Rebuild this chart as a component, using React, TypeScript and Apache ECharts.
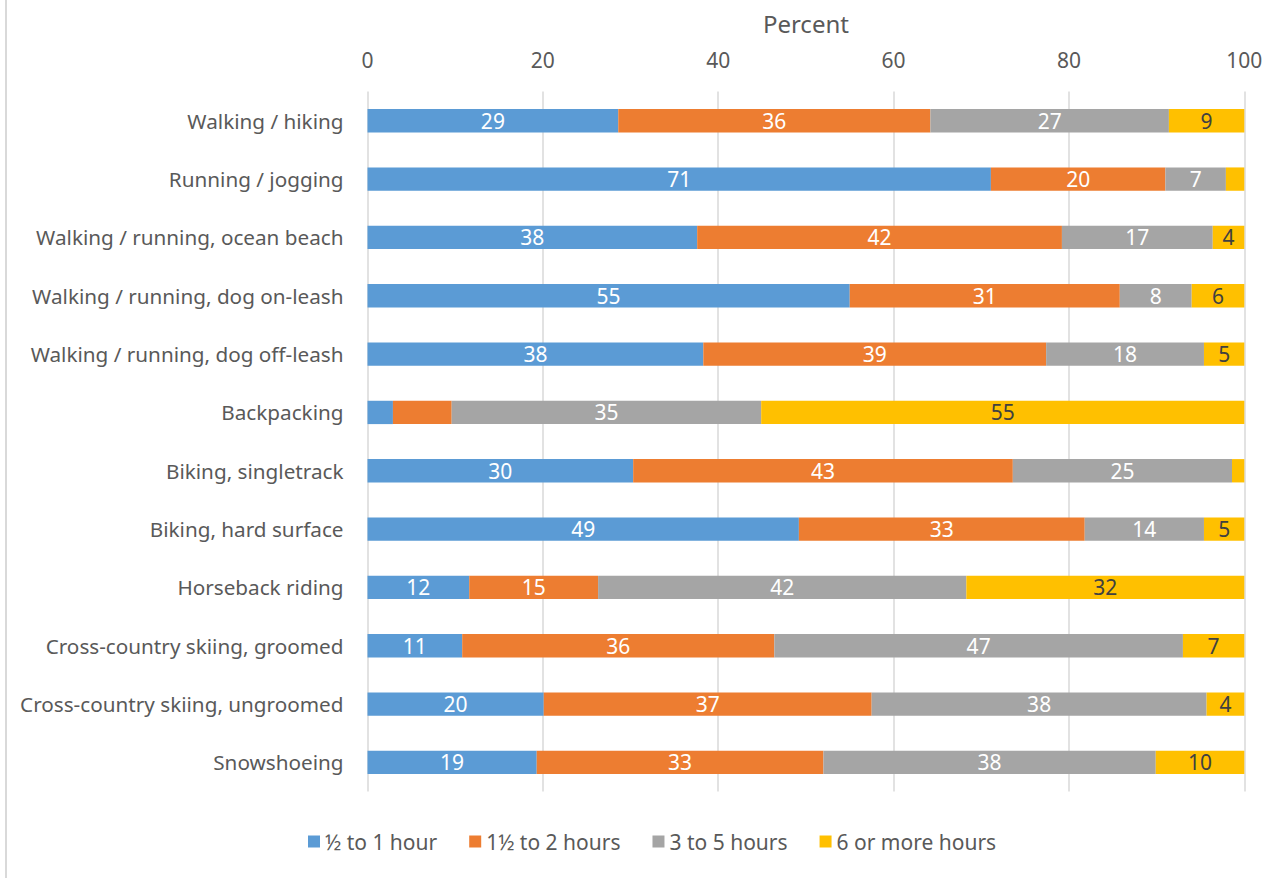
import React, { useEffect, useRef } from "react";
import * as echarts from "echarts";

// Activities, listed top to bottom
const categories = [
  "Walking / hiking",
  "Running / jogging",
  "Walking / running, ocean beach",
  "Walking / running, dog on-leash",
  "Walking / running, dog off-leash",
  "Backpacking",
  "Biking, singletrack",
  "Biking, hard surface",
  "Horseback riding",
  "Cross-country skiing, groomed",
  "Cross-country skiing, ungroomed",
  "Snowshoeing",
];

// Share of respondents (percent) by trip length
const halfToOneHour = [28.6, 71.1, 37.6, 55.0, 38.3, 2.9, 30.3, 49.2, 11.6, 10.8, 20.1, 19.3];
const oneHalfToTwoHours = [35.6, 19.9, 41.6, 30.8, 39.1, 6.7, 43.3, 32.6, 14.7, 35.6, 37.4, 32.7];
const threeToFiveHours = [27.2, 6.9, 17.2, 8.2, 18.0, 35.3, 25.0, 13.6, 42.0, 46.6, 38.2, 37.9];
const sixOrMoreHours = [8.6, 2.1, 3.6, 6.0, 4.6, 55.1, 1.4, 4.6, 31.7, 7.0, 4.3, 10.1];

const seriesNames = ["½ to 1 hour", "1½ to 2 hours", "3 to 5 hours", "6 or more hours"];
const seriesValues = [halfToOneHour, oneHalfToTwoHours, threeToFiveHours, sixOrMoreHours];
const seriesColors = ["#5B9BD5", "#ED7D31", "#A5A5A5", "#FFC000"];
const labelColors = ["#FFFFFF", "#FFFFFF", "#FFFFFF", "#404040"];

// Segments too thin to carry a label: [category index, series index]
const unlabeled: [number, number][] = [
  [1, 3],
  [5, 0],
  [5, 1],
  [6, 3],
];

const tickValues = [0, 20, 40, 60, 80, 100];

const FONT = "'Noto Sans', 'Open Sans', sans-serif";
const TEXT = "#595959";

export default function App() {
  const ref = useRef<HTMLDivElement>(null);

  useEffect(() => {
    if (!ref.current) return;
    const chart = echarts.init(ref.current, undefined, { renderer: "svg" });

    const series = seriesValues.map((values, s) => ({
      name: seriesNames[s],
      type: "bar" as const,
      stack: "total",
      barCategoryGap: "60%",
      itemStyle: { color: seriesColors[s] },
      label: {
        show: true,
        position: "inside" as const,
        color: labelColors[s],
        fontFamily: FONT,
        fontSize: 21,
        formatter: (p: any) => String(Math.round(p.value)),
      },
      data: values.map((v, c) => {
        const hide = unlabeled.some(([ci, si]) => ci === c && si === s);
        return hide ? { value: v, label: { show: false } } : { value: v };
      }),
    }));

    chart.setOption({
      animation: false,
      backgroundColor: "#FFFFFF",
      textStyle: { fontFamily: FONT },
      grid: { left: 367.5, right: 39.7, top: 91.6, bottom: 86.4, containLabel: false },
      xAxis: {
        type: "value",
        position: "top",
        min: tickValues[0],
        max: tickValues[tickValues.length - 1],
        interval: 20,
        name: "Percent",
        nameLocation: "middle",
        nameGap: 56,
        nameTextStyle: { color: TEXT, fontSize: 24, fontFamily: FONT },
        axisLine: { show: false },
        axisTick: { show: false },
        axisLabel: { color: TEXT, fontSize: 21, fontFamily: FONT, margin: 21 },
        splitLine: { show: true, lineStyle: { color: "#D9D9D9", width: 1.5 } },
      },
      yAxis: {
        type: "category",
        inverse: true,
        data: categories,
        axisLine: { show: false },
        axisTick: { show: false },
        axisLabel: { color: TEXT, fontSize: 20.7, fontFamily: FONT, margin: 24 },
      },
      legend: {
        show: true,
        left: 303,
        top: 826,
        itemWidth: 12,
        itemHeight: 12,
        itemGap: 32,
        icon: "rect",
        textStyle: { color: TEXT, fontSize: 21, fontFamily: FONT },
        data: seriesNames,
      },
      graphic: [
        {
          type: "rect",
          left: 5,
          top: 0,
          shape: { width: 2, height: 878 },
          style: { fill: "#D9D9D9" },
          silent: true,
        },
      ],
      series,
    });

    return () => chart.dispose();
  }, []);

  return (
    <div
      ref={ref}
      style={{ position: "fixed", left: 0, top: 0, width: 1284, height: 878, background: "#fff" }}
    />
  );
}
